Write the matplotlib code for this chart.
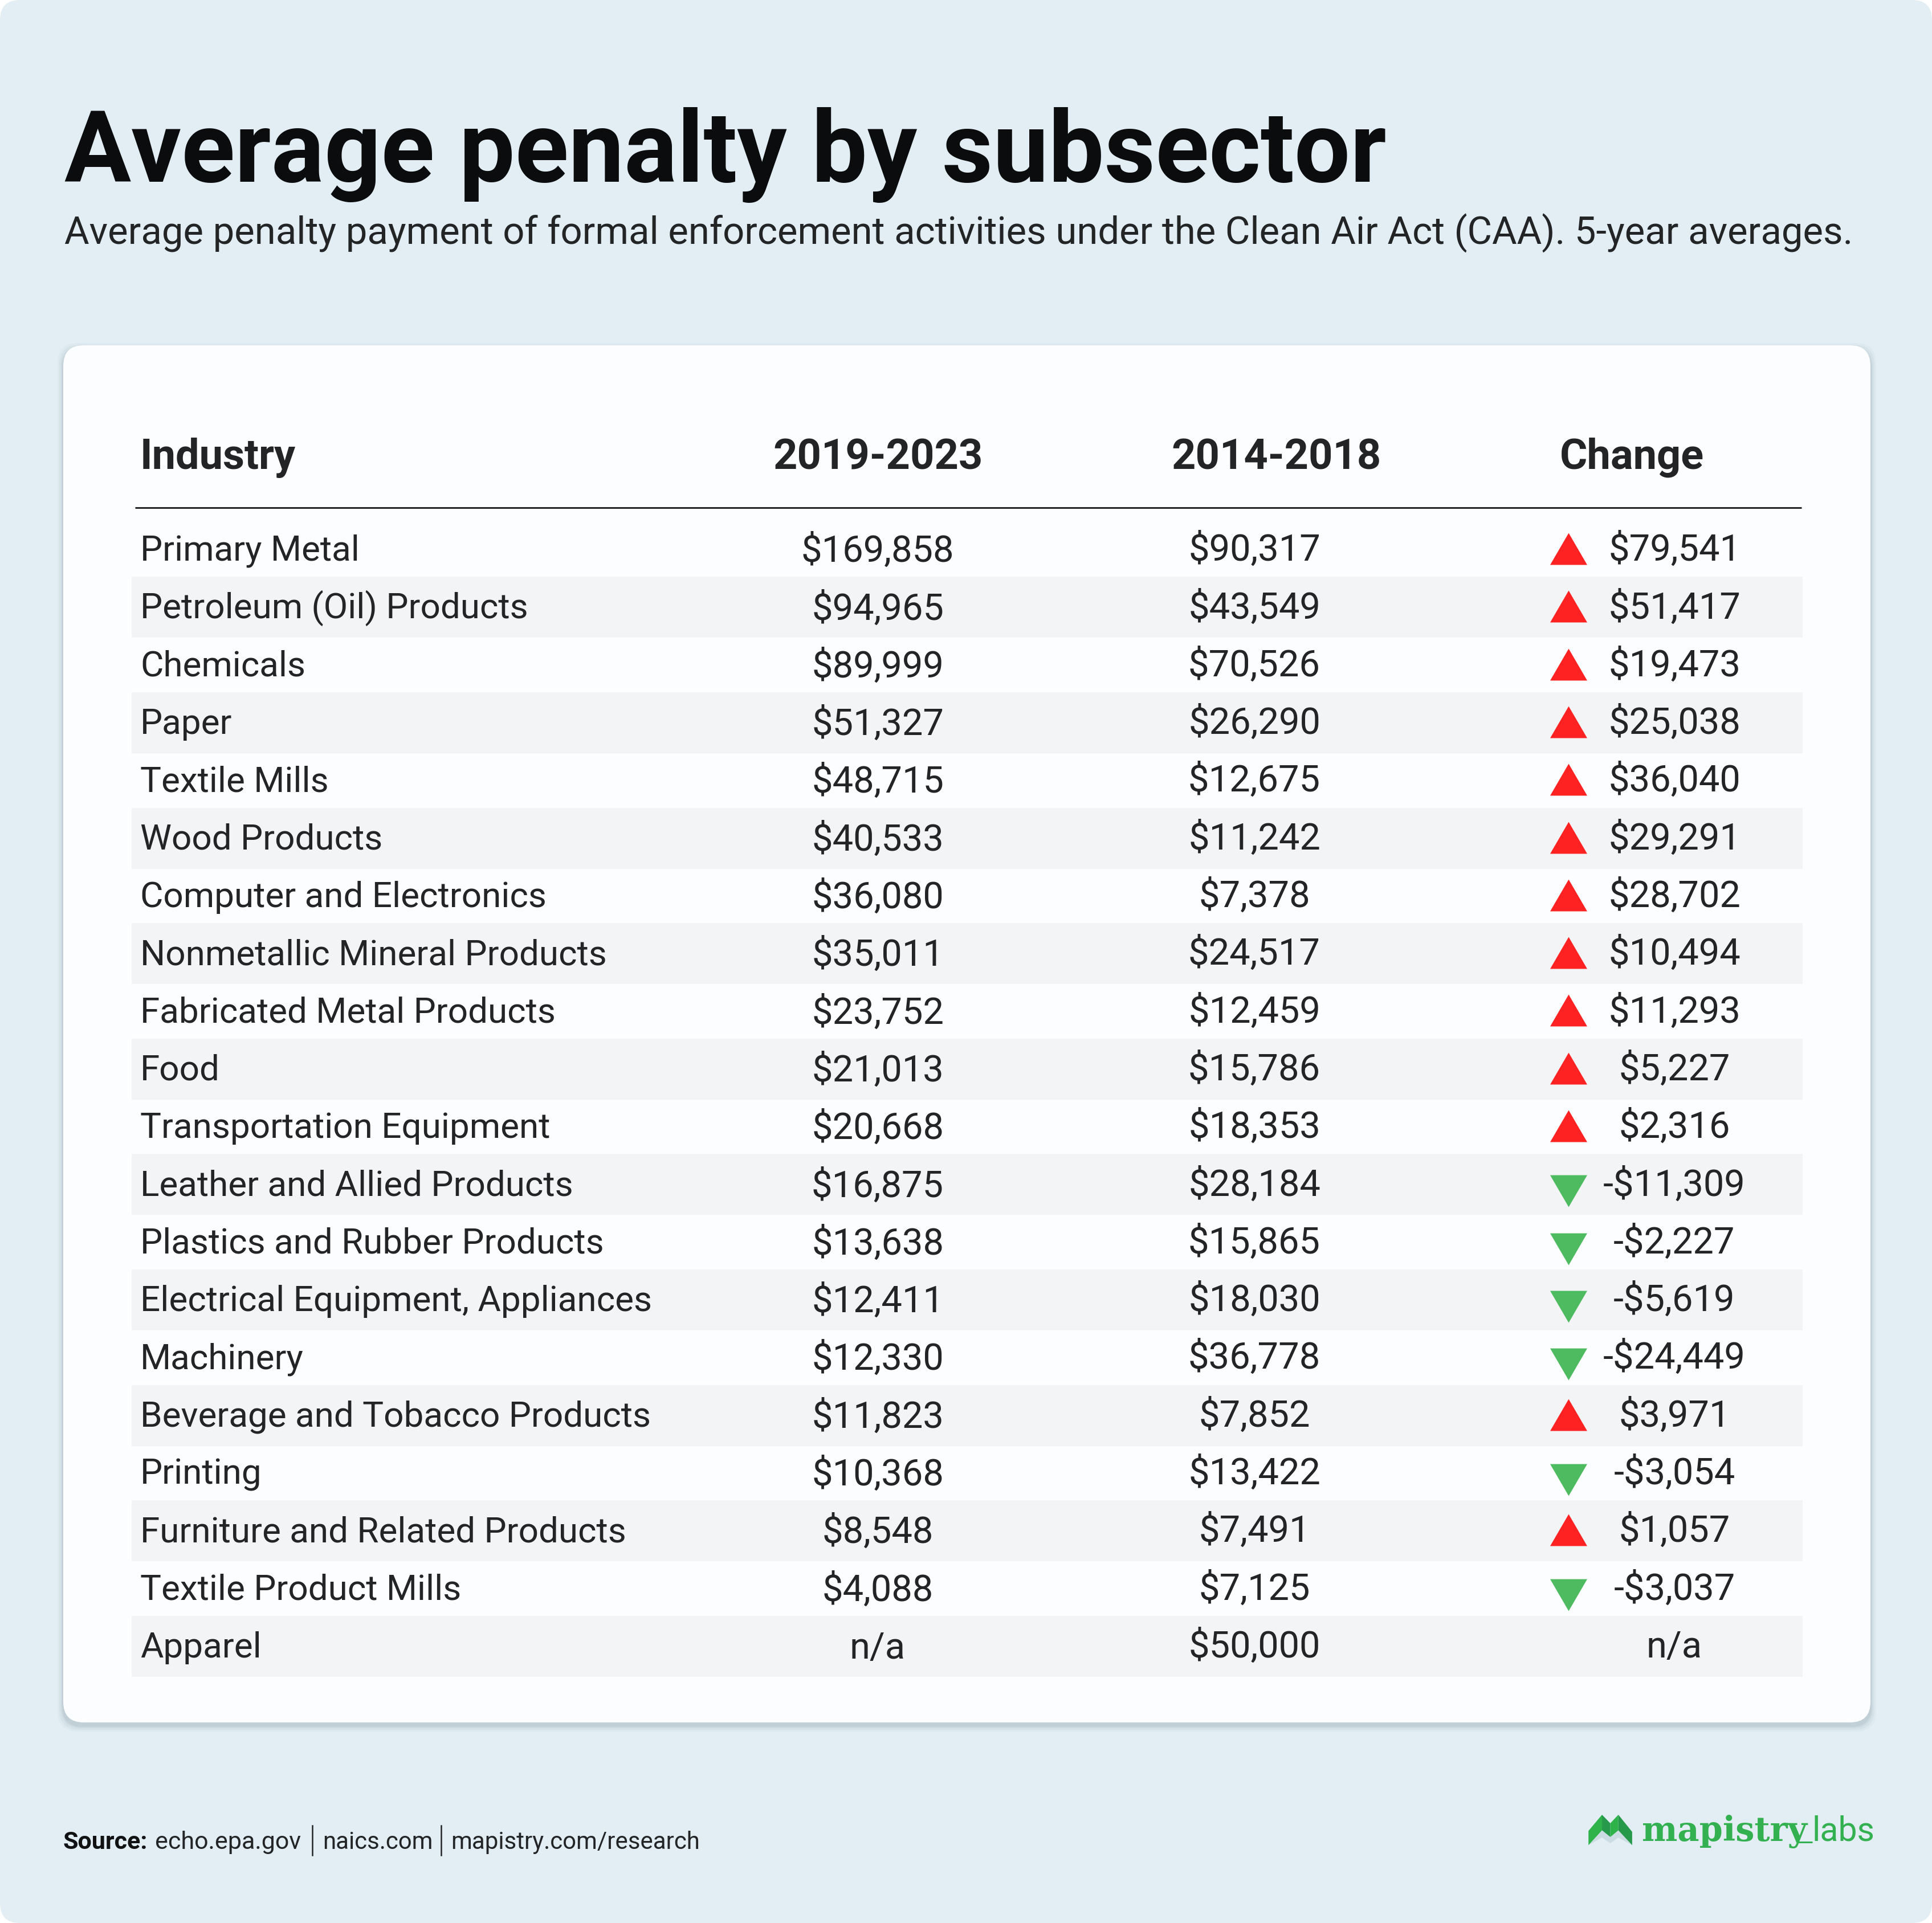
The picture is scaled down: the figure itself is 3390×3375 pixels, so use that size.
import matplotlib
matplotlib.use("Agg")
import matplotlib.pyplot as plt
from matplotlib.patches import FancyBboxPatch, Polygon

# ---------------------------------------------------
# DATA
# ---------------------------------------------------
industries = [
    "Primary Metal", "Petroleum (Oil) Products", "Chemicals", "Paper", "Textile Mills",
    "Wood Products", "Computer and Electronics", "Nonmetallic Mineral Products",
    "Fabricated Metal Products", "Food", "Transportation Equipment",
    "Leather and Allied Products", "Plastics and Rubber Products",
    "Electrical Equipment, Appliances", "Machinery", "Beverage and Tobacco Products",
    "Printing", "Furniture and Related Products", "Textile Product Mills", "Apparel",
]
recent = [169858, 94965, 89999, 51327, 48715, 40533, 36080, 35011, 23752, 21013,
          20668, 16875, 13638, 12411, 12330, 11823, 10368, 8548, 4088, None]
earlier = [90317, 43549, 70526, 26290, 12675, 11242, 7378, 24517, 12459, 15786,
           18353, 28184, 15865, 18030, 36778, 7852, 13422, 7491, 7125, 50000]
change = [79541, 51417, 19473, 25038, 36040, 29291, 28702, 10494, 11293, 5227,
          2316, -11309, -2227, -5619, -24449, 3971, -3054, 1057, -3037, None]
headers = ["Industry", "2019-2023", "2014-2018", "Change"]

title = "Average penalty by subsector"
subtitle = "Average penalty payment of formal enforcement activities under the Clean Air Act (CAA). 5-year averages."

# ---------------------------------------------------
# STYLE
# ---------------------------------------------------
plt.rcParams["font.family"] = ["Roboto", "Inter", "DejaVu Sans"]
W, H = 3390, 3375
BG = "#E2EEF3"
CARD = "#FBFDFE"
STRIPE = "#F2F4F5"
INK = "#222426"
RED = "#FF2222"
GREEN = "#4FBB60"
LOGO = "#33B04F"

def pt(px):
    return px * 72 / 100

def money(v):
    if v is None:
        return "n/a"
    return f"-${abs(v):,}" if v < 0 else f"${v:,}"

fig = plt.figure(figsize=(W / 100, H / 100), dpi=100, facecolor="white")
ax = fig.add_axes([0, 0, 1, 1])
ax.set_xlim(0, W)
ax.set_ylim(H, 0)
ax.axis("off")

# background and card
ax.add_patch(FancyBboxPatch((0, 0), W, H, boxstyle="round,pad=0,rounding_size=35",
                            fc=BG, ec="none", zorder=0))
for grow, alpha in [(10, 0.04), (7, 0.05), (4, 0.07), (2, 0.09)]:
    ax.add_patch(FancyBboxPatch((111 - grow, 606 - grow + 6), 3171 + 2 * grow, 2417 + 2 * grow,
                                boxstyle="round,pad=0,rounding_size=36",
                                fc="#5A7080", ec="none", alpha=alpha, zorder=1))
ax.add_patch(FancyBboxPatch((111, 606), 3171, 2417, boxstyle="round,pad=0,rounding_size=36",
                            fc=CARD, ec="none", zorder=2))

# titles
ax.text(113, 319, title, fontsize=pt(174), fontweight="bold", color="#0B0C0E",
        va="baseline", ha="left", zorder=3)
ax.text(113, 429, subtitle, fontsize=pt(67), color=INK, va="baseline", ha="left", zorder=3)

# header
header_x = [246, 1541, 2240, 2863]
for i, h in enumerate(headers):
    ax.text(header_x[i], 823, h, fontsize=pt(74), fontweight="bold", color=INK,
            ha="left" if i == 0 else "center", va="baseline", zorder=3)
ax.plot([237, 3161], [891, 891], color=INK, lw=pt(3), solid_capstyle="butt", zorder=3)

# rows
row_top = 962
row_step = 101.3
up = [(-1, -0.86), (1, -0.86), (0, 0.86)]
down = [(-1, 0.86), (1, 0.86), (0, -0.86)]
body = 62
figures = 65
drop = 22

for i, name in enumerate(industries):
    y = row_top + i * row_step
    if i % 2 == 1:
        ax.add_patch(plt.Rectangle((231, y - 51), 2932, 107, fc=STRIPE, ec="none", zorder=2))
    ax.text(246, y + drop, name, fontsize=pt(body), color=INK, ha="left", va="baseline", zorder=3)
    ax.text(1540, y + drop + 2, money(recent[i]), fontsize=pt(figures), color=INK, ha="center",
            va="baseline", zorder=3)
    ax.text(2201, y + drop, money(earlier[i]), fontsize=pt(figures), color=INK, ha="center",
            va="baseline", zorder=3)
    ax.text(2938, y + drop, money(change[i]), fontsize=pt(figures), color=INK, ha="center",
            va="baseline", zorder=3)
    if change[i] is None:
        continue
    if change[i] > 0:
        ax.scatter([2752], [y + 1], marker=up, s=pt(65) ** 2, color=RED, lw=0, zorder=3)
    else:
        ax.scatter([2752], [y + 14], marker=down, s=pt(65) ** 2, color=GREEN, lw=0, zorder=3)

# source line
ax.text(111, 3245, "Source:", fontsize=pt(43), fontweight="bold", color="#111214", va="baseline", zorder=3)
ax.text(272, 3245, "echo.epa.gov", fontsize=pt(43), color=INK, va="baseline", zorder=3)
ax.text(566, 3245, "naics.com", fontsize=pt(42), color=INK, va="baseline", zorder=3)
ax.text(791, 3245, "mapistry.com/research", fontsize=pt(42), color=INK, va="baseline", zorder=3)
ax.plot([548, 548], [3204, 3256], color=INK, lw=pt(2.5), zorder=3)
ax.plot([774, 774], [3204, 3256], color=INK, lw=pt(2.5), zorder=3)

# logo
def lx(v):
    return 2700 + v / 2.27

def ly(v):
    return 3100 + v / 3

def logo_poly(points, color):
    ax.add_patch(Polygon([(lx(a), ly(b)) for a, b in points], fc=color, ec="none", zorder=3))

logo_poly([(198, 415), (252, 337), (285, 372), (317, 337), (372, 415), (317, 375), (285, 405), (252, 375)], "#CBDDE3")
logo_poly([(198, 340), (252, 255), (252, 337), (198, 415)], "#2DB34A")
logo_poly([(252, 255), (285, 300), (285, 372), (252, 337)], "#27994A")
logo_poly([(285, 300), (317, 255), (317, 337), (285, 372)], "#2DB34A")
logo_poly([(317, 255), (372, 345), (372, 415), (317, 337)], "#27994A")
ax.text(lx(410), ly(392), "mapistry", fontsize=pt(59), fontweight="bold", family="DejaVu Serif",
        color=LOGO, va="baseline", ha="left", zorder=3)
ax.plot([lx(1030), lx(1090)], [ly(398), ly(398)], color=LOGO, lw=pt(3), solid_capstyle="butt", zorder=3)
ax.text(lx(1088), ly(392), "labs", fontsize=pt(59), fontweight="normal", color=LOGO,
        va="baseline", ha="left", zorder=3)

fig.savefig("out.png", dpi=100, facecolor="white")
